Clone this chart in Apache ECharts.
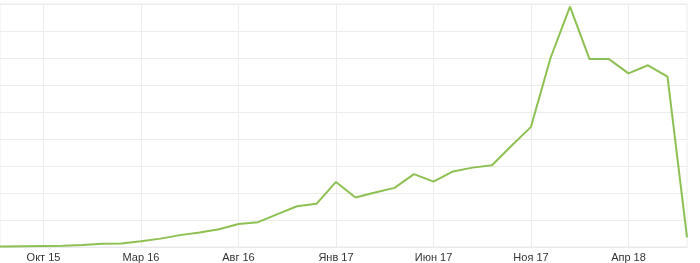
<!DOCTYPE html>
<html>
<head>
<meta charset="utf-8">
<script src="https://cdn.jsdelivr.net/npm/echarts@6/dist/echarts.min.js"></script>
<style>
html,body{margin:0;padding:0;background:#fff;}
#c{width:700px;height:263px;}
</style>
</head>
<body>
<div id="c"></div>
<script>
const months = [
  'Июл 15','Авг 15','Сен 15','Окт 15','Ноя 15','Дек 15',
  'Янв 16','Фев 16','Мар 16','Апр 16','Май 16','Июн 16',
  'Июл 16','Авг 16','Сен 16','Окт 16','Ноя 16','Дек 16',
  'Янв 17','Фев 17','Мар 17','Апр 17','Май 17','Июн 17',
  'Июл 17','Авг 17','Сен 17','Окт 17','Ноя 17','Дек 17',
  'Янв 18','Фев 18','Мар 18','Апр 18','Май 18','Июн 18','Июл 18'
];
const values = [
  0, 2, 3, 4, 5, 7,
  12, 13, 21, 31, 44, 54,
  66, 85, 92, 122, 151, 160,
  241, 183, 202, 219, 270, 242,
  280, 294, 303, 375, 445, 700,
  890, 696, 696, 643, 673, 631, 36
];
const tickLabels = ['Окт 15','Мар 16','Авг 16','Янв 17','Июн 17','Ноя 17','Апр 18'];
const yMin = 0, yMax = 900, yStep = 100;

const tickIdx = tickLabels.map(l => months.indexOf(l));
const seriesData = values.map((v, i) => [i, v]);

const chart = echarts.init(document.getElementById('c'), null, {renderer: 'canvas'});
chart.setOption({
  animation: false,
  grid: {left: 0, right: 13, top: 4, bottom: 15, containLabel: false,
         show: true, borderColor: '#ececec', borderWidth: 1, backgroundColor: 'transparent'},
  xAxis: {
    type: 'value',
    min: 0.77, max: months.length - 1,
    axisLine: {show: true, lineStyle: {color: '#e8e8e8', width: 1}},
    axisTick: {show: false, customValues: tickIdx},
    axisLabel: {customValues: tickIdx, formatter: (v) => months[Math.round(v)],
                color: '#333', fontSize: 11,
                fontFamily: 'Liberation Sans, Arial, sans-serif', margin: 5,
                showMinLabel: true, showMaxLabel: true},
    splitLine: {show: true, lineStyle: {color: '#ececec', width: 1}}
  },
  yAxis: {
    type: 'value',
    min: yMin, max: yMax, interval: yStep,
    axisLabel: {show: false},
    axisLine: {show: false},
    axisTick: {show: false},
    splitLine: {show: true, lineStyle: {color: '#ececec', width: 1}}
  },
  series: [{
    type: 'line',
    data: seriesData,
    symbol: 'none',
    clip: true,
    lineStyle: {color: '#8cc152', width: 2},
    itemStyle: {color: '#8cc152'}
  }]
});
</script>
</body>
</html>
